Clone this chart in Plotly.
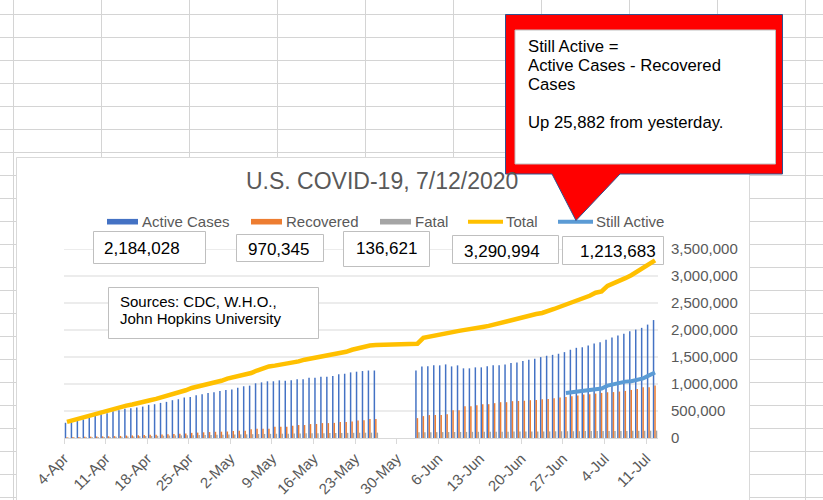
import plotly.graph_objects as go
import pandas as pd

# ---------------- data (values in thousands) ----------------
dates = pd.date_range("2020-04-04", "2020-07-12", freq="D")

active = [282, 300, 320, 344, 380, 410, 440, 460, 497, 516, 540, 553, 565, 582, 613, 626, 650, 669,
          700, 718, 750, 760, 790, 810, 834, 847, 872, 890, 900, 930, 958, 970, 1013, 1030, 1050, 1050,
          1068, 1060, 1070, 1087, 1087, 1117, 1117, 1135, 1135, 1148, 1180, 1190, 1215, 1228, 1240, 1250,
          1250, None, None, None, None, None, None,
          1250, 1326, 1330, 1345, 1345, 1363, 1326, 1345, 1290, 1290, 1308, 1308, 1330, 1345, 1345, 1363,
          1387, 1400, 1424, 1450, 1468, 1498, 1523, 1540, 1560, 1590, 1634, 1670, 1680, 1713, 1750, 1774,
          1818, 1860, 1897, 1930, 1976, 2008, 2040, 2100, 2184.028]

recovered = [15, 17, 19, 22, 25, 28, 30, 32, 35, 38, 45, 48, 52, 55, 58, 62, 65, 70, 75, 80, 85, 95,
             100, 105, 110, 115, 117, 120, 130, 135, 135, 160, 170, 170, 170, 208, 210, 210, 227, 240,
             240, 258, 260, 276, 276, 280, 295, 295, 307, 325, 330, 350, 352,
             None, None, None, None, None, None,
             368, 405, 424, 424, 424, 442, 516, 516, 589, 589, 608, 626, 626, 645, 663, 663, 682, 686,
             690, 700, 705, 718, 720, 737, 750, 760, 774, 786, 805, 810, 823, 835, 847, 850, 860, 872,
             890, 908, 940, 940, 970.345]

fatal = [8.4, 9.6, 10.9, 12.8, 14.6, 16.5, 18.6, 20.5, 22.1, 23.7, 25.8, 28.4, 32.9, 35.7, 38.1, 40.0,
         42.1, 44.6, 46.9, 48.9, 50.9, 52.8, 54.0, 55.4, 57.7, 60.1, 62.1, 64.0, 65.5, 66.8, 68.1, 70.6,
         73.0, 75.4, 77.1, 78.6, 79.7, 80.6, 82.3, 84.1, 85.9, 87.5, 88.7, 89.6, 90.4, 92.0, 93.5, 95.1,
         96.2, 97.3, 98.0, 98.5, 99.2,
         None, None, None, None, None, None,
         106.2, 107.2, 108.2, 109.1, 109.8, 110.2, 110.9, 112.0, 112.9, 113.8, 114.6, 115.3, 115.6,
         116.0, 116.9, 117.6, 118.4, 119.1, 119.7, 119.9, 120.3, 121.2, 122.0, 124.4, 125.0, 125.5,
         125.8, 126.1, 127.4, 128.1, 128.8, 129.4, 129.7, 129.9, 130.3, 131.5, 132.3, 133.2, 134.1,
         134.9, 136.621]

total = [300, 332, 356, 380, 418, 455, 490, 520, 546, 577, 600, 620, 640, 669, 700, 724, 755, 780, 810,
         847, 884, 926, 952, 976, 995, 1026, 1060, 1100, 1124, 1155, 1180, 1203, 1250, 1290, 1326, 1340,
         1357, 1380, 1400, 1418, 1450, 1473, 1492, 1498, 1523, 1547, 1571, 1596, 1634, 1663, 1689, 1713,
         1720, 1725, 1730, 1733, 1736, 1740, 1743, 1747, 1855, 1879, 1903, 1910, 1940, 1965, 1984, 2002,
         2026, 2039, 2057, 2076, 2105, 2124, 2142, 2173, 2205, 2234, 2271, 2296, 2315, 2345, 2389, 2431,
         2468, 2505, 2542, 2590, 2634, 2690, 2713, 2818, 2860, 2898, 2960, 3015, 3082, 3137, 3200,
         3290.994]

still_active = [None] * 84 + [835, 847, 855, 866, 884, 897, 915, 970, 1000, 1026, 1044, 1050, 1074,
                              1105, 1160, 1213.683]

series_names = ["Active Cases", "Recovered", "Fatal", "Total", "Still Active"]
series_colors = ["#4472C4", "#ED7D31", "#A5A5A5", "#FFC000", "#5B9BD5"]

title_text = "U.S. COVID-19, 7/12/2020"
sources_lines = ["Sources: CDC, W.H.O.,", "John Hopkins University"]
callout_lines = ["Still Active =", "Active Cases - Recovered", "Cases", "Up 25,882 from yesterday."]

# ---------------- geometry helpers ----------------
W, H = 823, 500
PL, PR, PT, PB = 64, 658, 249, 438
FONT = "Liberation Sans, Arial, sans-serif"
GRID = "#D9D9D9"
SHEET = "#D4D4D4"
TXT = "#595959"


def px(x):
    return (x - PL) / (PR - PL)


def py(y):
    return (PB - y) / (PB - PT)


def k(vals):
    return [None if v is None else v * 1000 for v in vals]


fig = go.Figure()

bar_series = [active, recovered, fatal]
for name, vals, color in zip(series_names[:3], bar_series, series_colors[:3]):
    fig.add_trace(go.Bar(x=dates, y=k(vals), name=name, marker_color=color, marker_line_width=0,
                         xperiod=86400000, xperiodalignment="middle"))

line_series = [total, still_active]
for name, vals, color in zip(series_names[3:], line_series, series_colors[3:]):
    fig.add_trace(go.Scatter(x=dates, y=k(vals), name=name, mode="lines",
                             line=dict(color=color, width=4.5 if name == "Total" else 4),
                             xperiod=86400000, xperiodalignment="middle"))

shapes = []
# spreadsheet grid
for i in range(10):
    x = 13.5 + 88 * i
    shapes.append(dict(type="line", xref="paper", yref="paper", x0=px(x), x1=px(x), y0=py(0), y1=py(500),
                       line=dict(color=SHEET, width=1), layer="below"))
for j in range(22):
    y = 14.5 + 23 * j
    shapes.append(dict(type="line", xref="paper", yref="paper", x0=px(0), x1=px(823), y0=py(y), y1=py(y),
                       line=dict(color=SHEET, width=1), layer="below"))
# chart frame
shapes.append(dict(type="rect", xref="paper", yref="paper", x0=px(16.5), x1=px(749.5), y0=py(157.5),
                   y1=py(520), fillcolor="white", line=dict(color=GRID, width=1), layer="below"))
# value gridlines
for v in range(500000, 3500001, 500000):
    shapes.append(dict(type="line", xref="paper", yref="y", x0=0, x1=1, y0=v, y1=v,
                       line=dict(color=GRID, width=1), layer="below"))

# value boxes
last_vals = [active[-1], recovered[-1], fatal[-1], total[-1], still_active[-1]]
boxes = [(93.5, 231.5, 205.5, 263.5, 104, 248),
         (236.5, 234.5, 323.5, 261.5, 248, 249.5),
         (343.5, 231.5, 429.5, 266.5, 356, 248),
         (452.5, 235.5, 558.5, 263.5, 464, 251),
         (562.5, 236.5, 663.5, 264.5, 580, 251)]
annotations = []
for (x0, y0, x1, y1, tx, ty), v in zip(boxes, last_vals):
    shapes.append(dict(type="rect", xref="paper", yref="paper", x0=px(x0), x1=px(x1), y0=py(y1), y1=py(y0),
                       fillcolor="white", line=dict(color="#BFBFBF", width=1), layer="below"))
    annotations.append(dict(xref="paper", yref="paper", x=px(tx - 2), y=py(ty), xanchor="left",
                            yanchor="middle", showarrow=False, text=f"{round(v * 1000):,}",
                            font=dict(family=FONT, size=17, color="black")))

# sources box
shapes.append(dict(type="rect", xref="paper", yref="paper", x0=px(108.5), x1=px(318.5), y0=py(338.5),
                   y1=py(287.5), fillcolor="white", line=dict(color="#BFBFBF", width=1), layer="below"))
for line_txt, ty in zip(sources_lines, [301, 318.5]):
    annotations.append(dict(xref="paper", yref="paper", x=px(118), y=py(ty), xanchor="left",
                            yanchor="middle", showarrow=False, text=line_txt,
                            font=dict(family=FONT, size=15, color="black")))

# legend (manual, Excel-like)
legend_items = [(107, 138, 142, "bar"), (251, 282, 286, "bar"), (380, 411, 415, "bar"),
                (468, 503, 506, "line"), (558, 593, 596, "line")]
LEG_Y = 221.7
for (sx0, sx1, tx, kind), name, color in zip(legend_items, series_names, series_colors):
    if kind == "bar":
        shapes.append(dict(type="rect", xref="paper", yref="paper", x0=px(sx0), x1=px(sx1),
                           y0=py(LEG_Y + 2.8), y1=py(LEG_Y - 2.8), fillcolor=color, line=dict(width=0),
                           layer="below"))
    else:
        shapes.append(dict(type="line", xref="paper", yref="paper", x0=px(sx0), x1=px(sx1),
                           y0=py(LEG_Y), y1=py(LEG_Y), line=dict(color=color, width=4), layer="below"))
    annotations.append(dict(xref="paper", yref="paper", x=px(tx - 2), y=py(LEG_Y), xanchor="left",
                            yanchor="middle", showarrow=False, text=name,
                            font=dict(family=FONT, size=15, color=TXT)))

# title
annotations.append(dict(xref="paper", yref="paper", x=px(382), y=py(181), xanchor="center",
                        yanchor="middle", showarrow=False, text=title_text,
                        font=dict(family=FONT, size=23, color=TXT)))

# callout shape
pts = [(505.5, 14.5), (782.5, 14.5), (782.5, 174), (620, 174), (576, 220.5), (552, 174), (505.5, 174)]
path = "M " + " L ".join(f"{px(x):.5f},{py(y):.5f}" for x, y in pts) + " Z"
shapes.append(dict(type="path", xref="paper", yref="paper", path=path, fillcolor="#FF0000",
                   line=dict(color="#2F528F", width=1), layer="above"))
shapes.append(dict(type="rect", xref="paper", yref="paper", x0=px(515), x1=px(775.5), y0=py(164),
                   y1=py(30), fillcolor="white", line=dict(color="#BFBFBF", width=1), layer="above"))
for line_txt, ty in zip(callout_lines, [46.7, 65.7, 84.5, 122.7]):
    annotations.append(dict(xref="paper", yref="paper", x=px(526), y=py(ty), xanchor="left",
                            yanchor="middle", showarrow=False, text=line_txt,
                            font=dict(family=FONT, size=16.7, color="black")))

fig.update_layout(
    width=W, height=H,
    margin=dict(l=PL, r=W - PR, t=PT, b=H - PB, pad=0, autoexpand=False),
    paper_bgcolor="white", plot_bgcolor="rgba(0,0,0,0)",
    showlegend=False, barmode="group", bargap=0.25, bargroupgap=0,
    font=dict(family=FONT, color=TXT),
    shapes=shapes, annotations=annotations,
)
fig.update_xaxes(type="date", range=["2020-04-04", "2020-07-13"], tick0="2020-04-04",
                 dtick=7 * 86400000, tickformat="%-d-%b", tickangle=-45, ticks="outside", ticklen=5,
                 tickcolor=GRID, showline=True, linecolor=GRID, linewidth=1, showgrid=False,
                 zeroline=False, automargin=False, tickfont=dict(family=FONT, size=15, color=TXT))
fig.update_yaxes(side="right", range=[0, 3500000], dtick=500000, tickformat=",d", showgrid=False,
                 zeroline=False, showline=False, ticks="", ticklabelstandoff=12, automargin=False,
                 tickfont=dict(family=FONT, size=15, color=TXT))

fig.write_html("out.html", config={"displayModeBar": False, "staticPlot": True},
               post_script="document.body.style.margin='0';document.body.style.overflow='hidden';")
